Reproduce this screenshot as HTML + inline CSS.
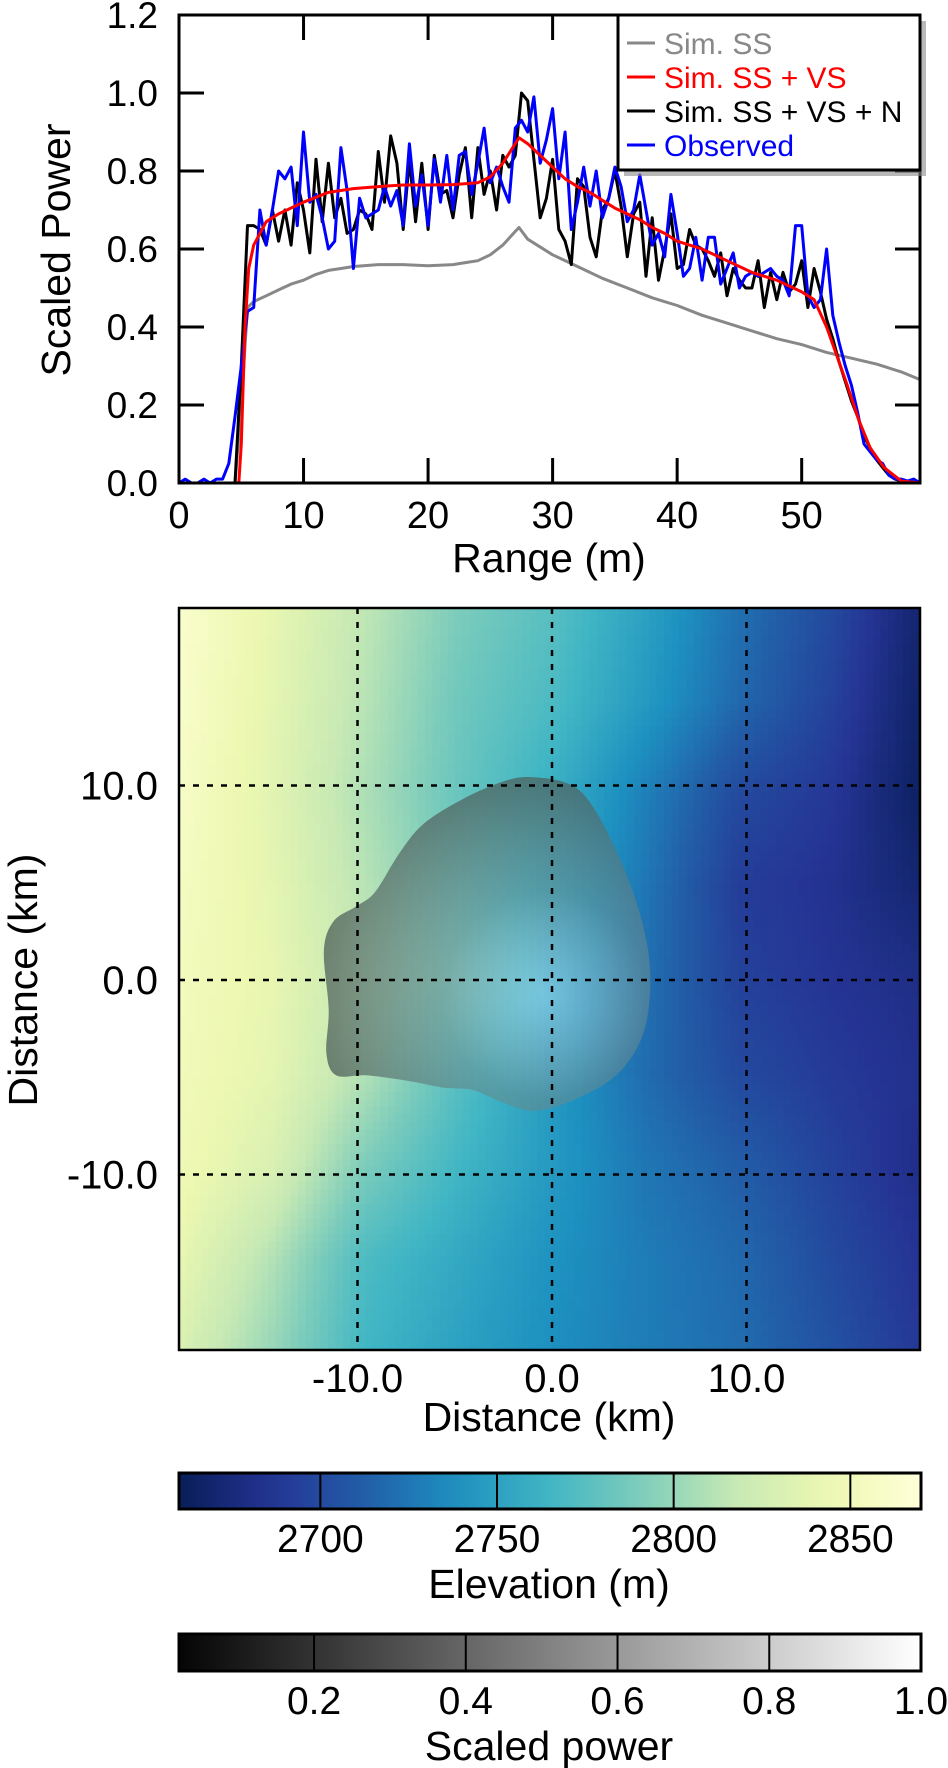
<!DOCTYPE html>
<html><head><meta charset="utf-8">
<style>
html,body{margin:0;padding:0;background:#fff;}
svg{display:block;font-family:"Liberation Sans",sans-serif;}
</style></head>
<body>
<svg id="fig" width="948" height="1768" viewBox="0 0 948 1768" xmlns="http://www.w3.org/2000/svg">
<defs>
<clipPath id="topclip"><rect x="179" y="15" width="741" height="468"/></clipPath>
<clipPath id="hmclip"><rect x="179" y="608" width="741" height="742"/></clipPath>
<radialGradient id="blobgrad" gradientUnits="userSpaceOnUse" cx="545" cy="995" r="230">
<stop offset="0" stop-color="#c8ecff" stop-opacity="0.45"/>
<stop offset="0.45" stop-color="#6a8c90" stop-opacity="0.55"/>
<stop offset="1" stop-color="#4a5a55" stop-opacity="0.75"/>
</radialGradient>
<linearGradient id="elevgrad" x1="0" x2="1" y1="0" y2="0"></linearGradient>
<linearGradient id="graygrad" x1="0" x2="1" y1="0" y2="0">
<stop offset="0" stop-color="#050505"/><stop offset="1" stop-color="#ffffff"/>
</linearGradient>
</defs>
<g id="top"></g>
<g id="hm"></g>
<g id="cb"></g>
</svg>
<script>
// ---------- top chart data ----------
const ssX = [0,4.5,5,5.5,6,7,8,9,10,11,12,13,14,16,18,20,22,23,24,25,26,27,27.3,28,30,32,34,36,38,40,42,44,46,48,50,52,54,56,58,59.5];
const ssY = [0,0,0.2,0.45,0.465,0.48,0.495,0.51,0.52,0.535,0.545,0.55,0.555,0.56,0.56,0.557,0.56,0.565,0.57,0.585,0.61,0.645,0.655,0.625,0.585,0.555,0.525,0.5,0.475,0.455,0.43,0.41,0.39,0.37,0.355,0.335,0.32,0.305,0.285,0.265];
const vsX = [0,4.8,5.0,5.3,5.6,6,7,8,10,12,14,16,18,20,22,24,25,26,27.3,28,29,30,31,32,33,34,35,36,37,38,39,40,42,44,45,46,48,50,51,52,53,53.5,54.6,55.5,56.6,58,59.5];
const vsY = [0,0,0.1,0.4,0.55,0.61,0.67,0.69,0.72,0.745,0.755,0.76,0.764,0.764,0.765,0.77,0.785,0.82,0.885,0.87,0.84,0.81,0.78,0.76,0.745,0.725,0.705,0.69,0.675,0.655,0.64,0.62,0.6,0.57,0.555,0.54,0.52,0.49,0.47,0.4,0.31,0.265,0.16,0.09,0.04,0.005,0];
const noiseStep = 0.5;
const vsnY = [0,0,0,0,0,0,0,0,0,0,
0.3,0.66,0.66,0.65,0.61,0.70,0.62,0.70,0.61,0.77,
0.70,0.59,0.83,0.67,0.82,0.68,0.73,0.64,0.65,0.70,
0.69,0.65,0.85,0.72,0.89,0.82,0.65,0.83,0.67,0.82,
0.65,0.84,0.74,0.75,0.68,0.79,0.86,0.68,0.86,0.74,
0.80,0.70,0.84,0.81,0.84,1.00,0.98,0.83,0.68,0.73,
0.83,0.65,0.62,0.56,0.78,0.76,0.63,0.58,0.70,0.73,
0.80,0.71,0.58,0.69,0.72,0.53,0.68,0.52,0.60,0.69,
0.55,0.56,0.65,0.61,0.60,0.57,0.53,0.59,0.48,0.55,
0.52,0.50,0.50,0.57,0.45,0.54,0.47,0.54,0.49,0.51,
0.57,0.45,0.55,0.49,0.42,0.37,0.31,0.26,0.21,0.17,
0.12,0.09,0.06,0.04,0.02,0.01,0.005,0,0,0];
const obsY = [0,0.01,0,0,0.01,0,0.01,0.01,0.05,0.17,
0.30,0.44,0.45,0.70,0.61,0.70,0.80,0.78,0.81,0.66,
0.90,0.72,0.74,0.68,0.60,0.62,0.86,0.75,0.55,0.73,
0.68,0.69,0.70,0.76,0.71,0.75,0.66,0.87,0.71,0.79,
0.66,0.83,0.72,0.84,0.70,0.84,0.85,0.74,0.82,0.91,
0.77,0.81,0.76,0.72,0.91,0.93,0.90,0.99,0.82,0.88,
0.96,0.78,0.90,0.65,0.72,0.81,0.71,0.80,0.68,0.73,
0.81,0.76,0.67,0.70,0.79,0.70,0.61,0.64,0.58,0.74,
0.64,0.53,0.55,0.63,0.52,0.63,0.63,0.51,0.55,0.59,
0.50,0.53,0.54,0.53,0.54,0.55,0.53,0.52,0.48,0.66,
0.66,0.48,0.45,0.47,0.60,0.43,0.36,0.30,0.25,0.18,
0.10,0.08,0.06,0.05,0.02,0.01,0.01,0.005,0.01,0];
const xTicks = [0,10,20,30,40,50];
const yTicks = [0,0.2,0.4,0.6,0.8,1.0,1.2];
const yTickLabels = ["0.0","0.2","0.4","0.6","0.8","1.0","1.2"];
const legendLabels = ["Sim. SS","Sim. SS + VS","Sim. SS + VS + N","Observed"];
const legendColors = ["#888888","#ff0000","#000000","#0000ff"];

// ---------- map data ----------
const gridX = [-19.2,-14.4,-9.6,-4.8,0,4.8,9.6,14.4,19.2];
const gridY = [19.2,14.4,9.6,4.8,0,-4.8,-9.6,-14.4,-19.2];
const elevRows = [
[2862,2840,2815,2790,2775,2750,2722,2700,2668],
[2860,2838,2812,2785,2770,2745,2718,2695,2665],
[2858,2836,2808,2782,2760,2730,2700,2688,2663],
[2855,2838,2812,2785,2755,2725,2692,2684,2670],
[2852,2840,2815,2790,2750,2722,2695,2686,2680],
[2850,2838,2810,2775,2745,2720,2700,2690,2682],
[2848,2830,2790,2765,2745,2725,2712,2695,2680],
[2840,2810,2770,2755,2740,2728,2718,2700,2685],
[2830,2800,2765,2750,2738,2728,2720,2705,2688]];
const blobX = [-1.08,0.93,2.18,3.68,4.69,5.06,4.69,3.43,1.43,-0.83,-2.58,-4.09,-5.59,-7.59,-9.6,-11.1,-11.6,-11.48,-11.73,-11.23,-10.1,-9.1,-7.84,-6.59,-4.59,-2.58];
const blobY = [10.43,10.05,8.79,5.78,2.76,0,-2.76,-4.77,-6.03,-6.73,-6.28,-5.65,-5.53,-5.15,-4.9,-4.9,-3.77,-1.51,1.51,3.02,3.77,4.52,6.53,8.04,9.3,10.18];
const mapTicks = [-10,0,10];
const mapTickLabels = ["-10.0","0.0","10.0"];
const elevTicks = [2700,2750,2800,2850];
const powerTicks = [0.2,0.4,0.6,0.8,1.0];
const powerTickLabels = ["0.2","0.4","0.6","0.8","1.0"];

const NS="http://www.w3.org/2000/svg";
function mk(parent,tag,attrs,text){const e=document.createElementNS(NS,tag);for(const k in attrs)e.setAttribute(k,attrs[k]);if(text!==undefined)e.textContent=text;parent.appendChild(e);return e;}

// ---------- top chart ----------
const T=document.getElementById('top');
const sx=v=>179+v/59.5*741;
const sy=v=>483-v/1.2*468;
function lineFrom(xs,ys,color,w,name){
  let d='';for(let i=0;i<ys.length;i++){d+=(i?'L':'M')+sx(xs[i]).toFixed(1)+','+sy(ys[i]).toFixed(1);}
  const p=mk(T,'path',{d:d,fill:'none',stroke:color,'stroke-width':w,'stroke-linejoin':'round','clip-path':'url(#topclip)'});
  
  
}
const nX=vsnY.map((_,i)=>i*noiseStep);
lineFrom(ssX,ssY,'#888888',3,'series-sim-ss');
lineFrom(nX,vsnY,'#000000',3,'series-sim-ss-vs-n');
lineFrom(nX,obsY,'#0000ff',3,'series-observed');
lineFrom(vsX,vsY,'#ff0000',3,'series-sim-ss-vs');
mk(T,'rect',{x:179,y:15,width:741,height:468,fill:'none',stroke:'#000','stroke-width':3,});
xTicks.forEach(v=>{
  const x=sx(v);
  if(v>0){const t1=mk(T,'line',{x1:x,x2:x,y1:483,y2:458,stroke:'#000','stroke-width':3});
  const t2=mk(T,'line',{x1:x,x2:x,y1:15,y2:40,stroke:'#000','stroke-width':3});}
  const l=mk(T,'text',{x:x,y:528,'font-size':38,'text-anchor':'middle'},String(v));
  
});
yTicks.forEach((v,i)=>{
  const y=sy(v);
  if(v>0&&v<1.2){const t1=mk(T,'line',{x1:179,x2:204,y1:y,y2:y,stroke:'#000','stroke-width':3});
  const t2=mk(T,'line',{x1:920,x2:895,y1:y,y2:y,stroke:'#000','stroke-width':3});}
  const l=mk(T,'text',{x:158,y:y+13,'font-size':37,'text-anchor':'end'},yTickLabels[i]);
  
});
mk(T,'text',{x:549,y:572,'font-size':41,'text-anchor':'middle',},'Range (m)');
mk(T,'text',{x:0,y:0,'font-size':41,'text-anchor':'middle',transform:'translate(70,250) rotate(-90)',},'Scaled Power');
// legend
const L=mk(T,'g',{});
mk(L,'rect',{x:624,y:21,width:302,height:155,fill:'#888','opacity':0.6});
mk(L,'rect',{x:618,y:15,width:302,height:155,fill:'#fff',stroke:'#000','stroke-width':3});
legendLabels.forEach((s,i)=>{
  const y=43+i*34;
  const g=mk(L,'g',{});
  
  
  mk(g,'line',{x1:627,x2:655,y1:y,y2:y,stroke:legendColors[i],'stroke-width':3});
  mk(g,'text',{x:664,y:y+11,'font-size':30,fill:legendColors[i]},s);
});

// ---------- colormap ----------
const cmStops=["#081d58","#253494","#225ea8","#1d91c0","#41b6c4","#7fcdbb","#c7e9b4","#edf8b1","#ffffd9"];
const EMIN=2660,EMAX=2870;
function hex(c){return [parseInt(c.substr(1,2),16),parseInt(c.substr(3,2),16),parseInt(c.substr(5,2),16)];}
function cmap(e){let t=(e-EMIN)/(EMAX-EMIN);t=Math.max(0,Math.min(1,t))*8;const i=Math.min(7,Math.floor(t));const f=t-i;const a=hex(cmStops[i]),b=hex(cmStops[i+1]);return 'rgb('+a.map((v,k)=>Math.round(v+(b[k]-v)*f)).join(',')+')';}

// ---------- map ----------
const H=document.getElementById('hm');
const hx=k=>552+k*19.45;
const hy=k=>980-k*19.45;
function elevAt(xk,yk){
  const fx=(xk-gridX[0])/(gridX[1]-gridX[0]);const fy=(gridY[0]-yk)/(gridY[0]-gridY[1]);
  const i=Math.max(0,Math.min(gridX.length-2,Math.floor(fx)));const j=Math.max(0,Math.min(gridY.length-2,Math.floor(fy)));
  const u=Math.max(0,Math.min(1,fx-i)),w=Math.max(0,Math.min(1,fy-j));
  const a=elevRows[j][i],b=elevRows[j][i+1],c=elevRows[j+1][i],d=elevRows[j+1][i+1];
  return a*(1-u)*(1-w)+b*u*(1-w)+c*(1-u)*w+d*u*w;
}
const cells=mk(H,'g',{'clip-path':'url(#hmclip)'});


const NC=100,NR=100;const xa=-19.2,xb=19.2,ya=19.2,yb=-19.2;
for(let r=0;r<NR;r++){for(let c=0;c<NC;c++){
  const x0=xa+(xb-xa)*c/NC,x1=xa+(xb-xa)*(c+1)/NC,y0=ya+(yb-ya)*r/NR,y1=ya+(yb-ya)*(r+1)/NR;
  const e=elevAt((x0+x1)/2,(y0+y1)/2);
  const rc=mk(cells,'rect',{x:hx(x0).toFixed(2),y:hy(y0).toFixed(2),width:(hx(x1)-hx(x0)+0.7).toFixed(2),height:(hy(y1)-hy(y0)+0.7).toFixed(2),fill:cmap(e)});
  
  
}}
// blob (Catmull-Rom closed)
(function(){
  const P=blobX.map((v,i)=>[hx(v),hy(blobY[i])]);const n=P.length;let d='M'+P[0][0].toFixed(1)+','+P[0][1].toFixed(1);
  for(let i=0;i<n;i++){const p0=P[(i-1+n)%n],p1=P[i],p2=P[(i+1)%n],p3=P[(i+2)%n];
    const c1=[p1[0]+(p2[0]-p0[0])/6,p1[1]+(p2[1]-p0[1])/6],c2=[p2[0]-(p3[0]-p1[0])/6,p2[1]-(p3[1]-p1[1])/6];
    d+='C'+c1[0].toFixed(1)+','+c1[1].toFixed(1)+' '+c2[0].toFixed(1)+','+c2[1].toFixed(1)+' '+p2[0].toFixed(1)+','+p2[1].toFixed(1);}
  const b=mk(H,'path',{d:d+'Z',fill:'url(#blobgrad)','clip-path':'url(#hmclip)'});
  
  
})();
mapTicks.forEach((v,i)=>{
  const gx=mk(H,'line',{x1:hx(v),x2:hx(v),y1:608,y2:1350,stroke:'#000','stroke-width':2.5,'stroke-dasharray':'6 8'});
  
  const gy=mk(H,'line',{x1:179,x2:920,y1:hy(v),y2:hy(v),stroke:'#000','stroke-width':2.5,'stroke-dasharray':'6 8'});
  
  const lx=mk(H,'text',{x:hx(v),y:1392,'font-size':40,'text-anchor':'middle'},mapTickLabels[i]);
  
  const ly=mk(H,'text',{x:158,y:hy(v)+14,'font-size':40,'text-anchor':'end'},mapTickLabels[i]);
  
});
mk(H,'rect',{x:179,y:608,width:741,height:742,fill:'none',stroke:'#000','stroke-width':2.5,});
mk(H,'text',{x:549,y:1431,'font-size':41,'text-anchor':'middle',},'Distance (km)');
mk(H,'text',{x:0,y:0,'font-size':41,'text-anchor':'middle',transform:'translate(37,980) rotate(-90)',},'Distance (km)');

// ---------- colorbars ----------
const C=document.getElementById('cb');
const eg=document.getElementById('elevgrad');
for(let i=0;i<=20;i++){mk(eg,'stop',{offset:i/20,'stop-color':cmap(EMIN+(EMAX-EMIN)*i/20)});}
const ex=e=>179+(e-EMIN)/(EMAX-EMIN)*742;
const px=v=>179+(v-0.022)/(1-0.022)*742;
mk(C,'rect',{x:179,y:1473,width:742,height:36,fill:'url(#elevgrad)',stroke:'#000','stroke-width':3,});
elevTicks.forEach(v=>{
  const t=mk(C,'line',{x1:ex(v),x2:ex(v),y1:1473,y2:1509,stroke:'#000','stroke-width':2});
  
  const l=mk(C,'text',{x:ex(v),y:1552,'font-size':39,'text-anchor':'middle'},String(v));
  
});
mk(C,'text',{x:549,y:1598,'font-size':41,'text-anchor':'middle',},'Elevation (m)');
mk(C,'rect',{x:179,y:1634,width:742,height:37,fill:'url(#graygrad)',stroke:'#000','stroke-width':3,});
powerTicks.forEach((v,i)=>{
  if(v<1){const t=mk(C,'line',{x1:px(v),x2:px(v),y1:1634,y2:1671,stroke:'#000','stroke-width':2});
  }
  const l=mk(C,'text',{x:px(v),y:1714,'font-size':39,'text-anchor':'middle'},powerTickLabels[i]);
  
});
mk(C,'text',{x:549,y:1760,'font-size':41,'text-anchor':'middle',},'Scaled power');
</script>
</body></html>
